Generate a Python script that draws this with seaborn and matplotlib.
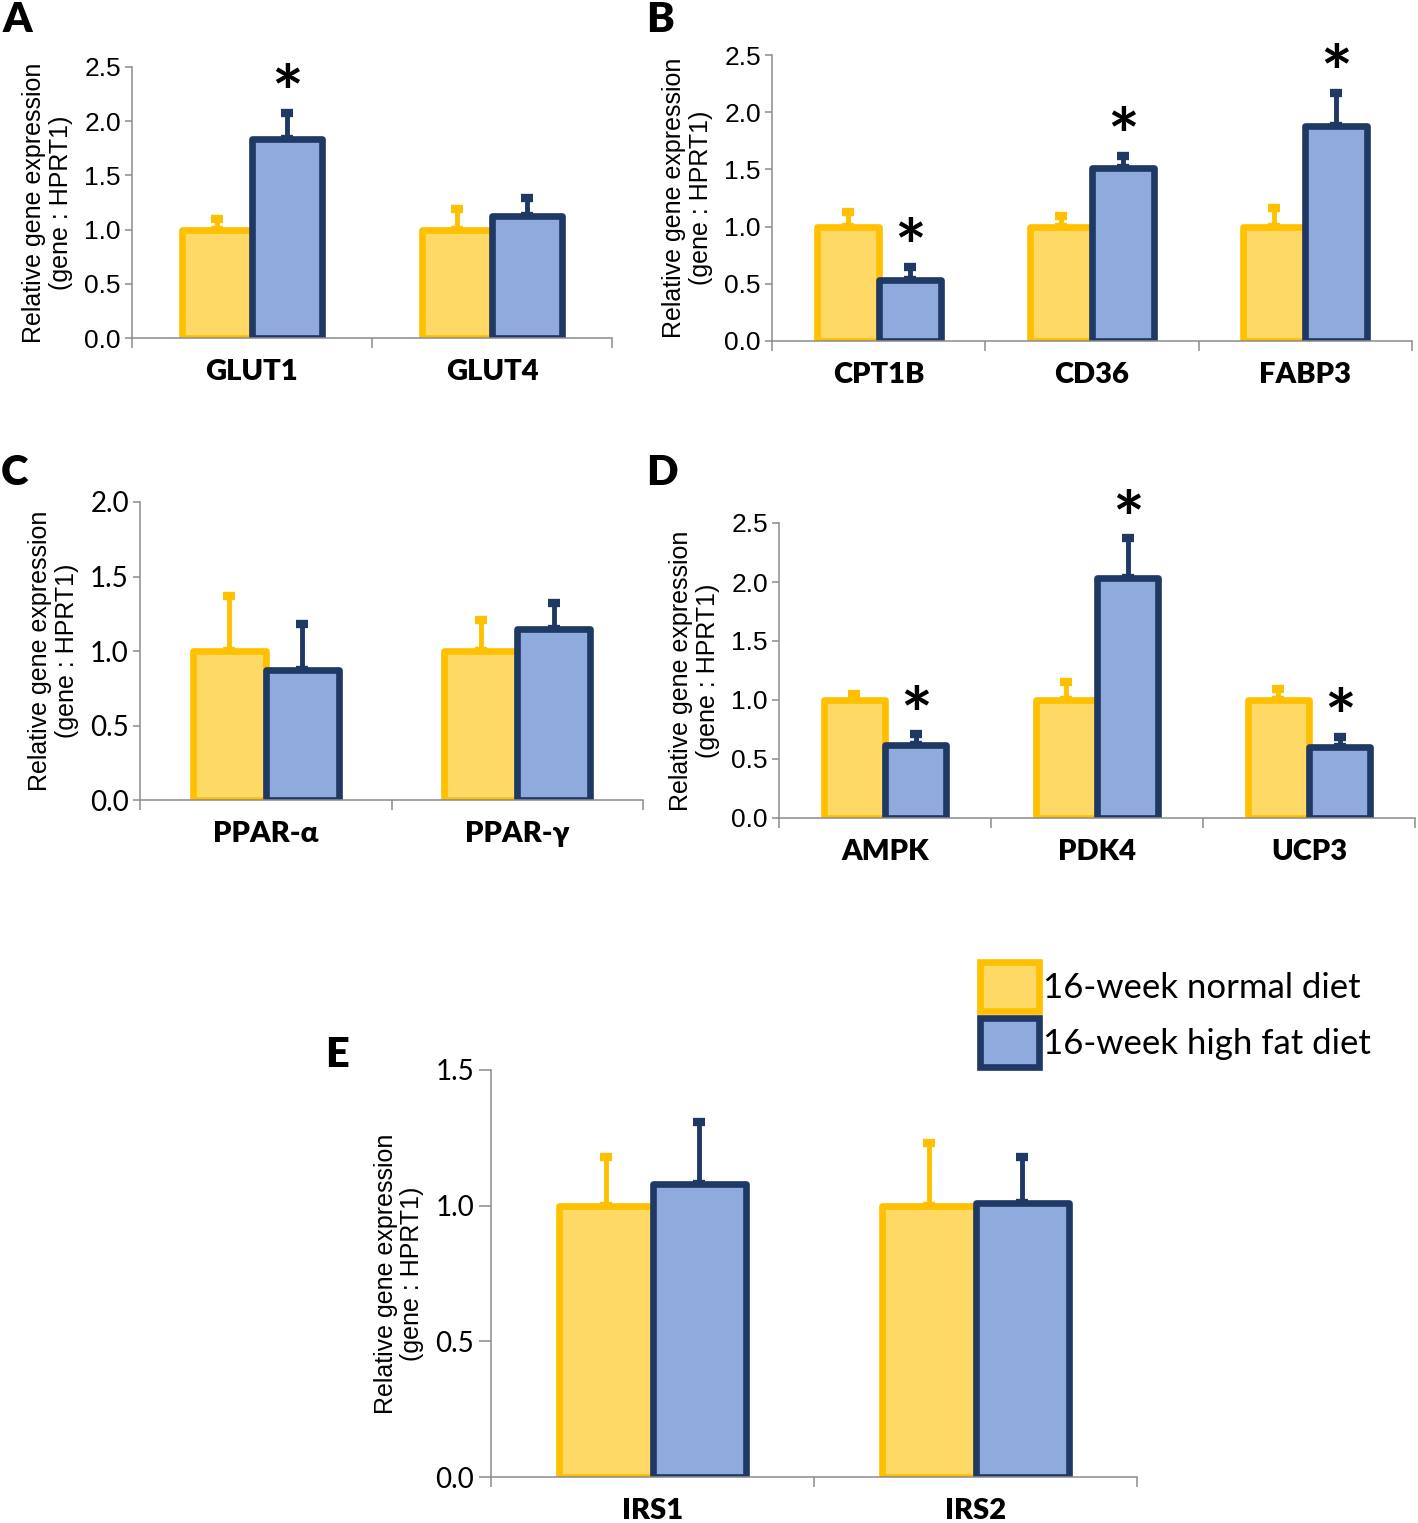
import numpy as np
import pandas as pd
import seaborn as sns
import matplotlib.pyplot as plt
from matplotlib.patches import Patch

# values: mean and upper SEM for each diet
diets = ['16-week normal diet', '16-week high fat diet']

genes_a = ['GLUT1', 'GLUT4']
normal_a = [1.00, 1.00]
normal_err_a = [0.10, 0.19]
hfd_a = [1.84, 1.13]
hfd_err_a = [0.24, 0.16]
star_a = [True, False]

genes_b = ['CPT1B', 'CD36', 'FABP3']
normal_b = [1.00, 1.00, 1.00]
normal_err_b = [0.13, 0.09, 0.16]
hfd_b = [0.53, 1.51, 1.88]
hfd_err_b = [0.12, 0.11, 0.29]
star_b = [True, True, True]

genes_c = ['PPAR-α', 'PPAR-γ']
normal_c = [1.00, 1.00]
normal_err_c = [0.37, 0.21]
hfd_c = [0.87, 1.15]
hfd_err_c = [0.31, 0.17]
star_c = [False, False]

genes_d = ['AMPK', 'PDK4', 'UCP3']
normal_d = [1.00, 1.00, 1.00]
normal_err_d = [0.05, 0.15, 0.09]
hfd_d = [0.62, 2.03, 0.60]
hfd_err_d = [0.09, 0.34, 0.09]
star_d = [True, True, True]

genes_e = ['IRS1', 'IRS2']
normal_e = [1.00, 1.00]
normal_err_e = [0.18, 0.23]
hfd_e = [1.08, 1.01]
hfd_err_e = [0.23, 0.17]
star_e = [False, False]

fills = ['#FFD966', '#8FAADC']
edges = ['#FFC000', '#203864']
axis_grey = '#8C8C8C'

plt.rcParams['font.family'] = ['Liberation Sans', 'DejaVu Sans']

W, H = 1418, 1523
fig = plt.figure(figsize=(W / 100, H / 100), dpi=100)


def rect(left, right, bottom, top):
    return [left / W, 1 - bottom / H, (right - left) / W, (bottom - top) / H]


def draw_panel(ax, genes, normal, normal_err, hfd, hfd_err, stars, ymax, tick_font, ytick_len=5):
    df = pd.DataFrame({
        'gene': genes * 2,
        'diet': [diets[0]] * len(genes) + [diets[1]] * len(genes),
        'value': normal + hfd,
    })
    sns.barplot(data=df, x='gene', y='value', hue='diet', palette=fills, saturation=1,
                width=0.58, gap=0, errorbar=None, legend=False, linewidth=4.8, ax=ax)

    errs = [normal_err, hfd_err]
    bar_groups = list(ax.containers)
    for i, cont in enumerate(bar_groups):
        xs, tops = [], []
        for p in cont:
            p.set_edgecolor(edges[i])
            p.set_joinstyle('round')
            xs.append(p.get_x() + p.get_width() / 2)
            tops.append(p.get_height())
        ax.errorbar(xs, tops, yerr=[np.zeros(len(xs)), errs[i]], fmt='none', ecolor=edges[i],
                    elinewidth=3.5, capsize=4.5, capthick=6, zorder=0.5)
        if i == 1:
            # significance marks above the high fat diet bars
            for x, t, e, s in zip(xs, tops, errs[i], stars):
                if s:
                    ax.annotate('*', xy=(x, t + e), xytext=(0, -14), textcoords='offset points',
                                ha='center', va='bottom', fontsize=54, fontweight='bold',
                                family='Lato')

    n = len(genes)
    ax.set_xlim(-0.5, n - 0.5)
    ax.set_ylim(0, ymax)
    ax.set_yticks(np.arange(0, ymax + 0.01, 0.5))
    ax.set_yticklabels([f'{v:.1f}' for v in np.arange(0, ymax + 0.01, 0.5)], **tick_font)
    ax.set_xticks(range(n))
    ax.set_xticklabels(genes, family=['Lato', 'Liberation Serif'], fontweight='heavy', fontsize=21)
    ax.set_xticks(np.arange(-0.5, n, 1.0), minor=True)
    ax.tick_params(axis='x', which='major', length=0, pad=15)
    ax.tick_params(axis='x', which='minor', length=7, width=1.1, color=axis_grey)
    ax.tick_params(axis='y', length=ytick_len, width=1.1, color=axis_grey, pad=3)

    ax.set_xlabel('')
    ax.set_ylabel('Relative gene expression\n(gene : HPRT1)', fontsize=18, labelpad=8,
                  linespacing=1.15)
    for side in ['top', 'right']:
        ax.spines[side].set_visible(False)
    for side in ['left', 'bottom']:
        ax.spines[side].set_color(axis_grey)
        ax.spines[side].set_linewidth(1.1)
    ax.set_facecolor('none')


narrow = dict(family=['Liberation Sans Narrow', 'Liberation Sans'], fontsize=19)
calibri = dict(family='Lato', fontsize=20)

ax_a = fig.add_axes(rect(132, 612, 338, 67))
draw_panel(ax_a, genes_a, normal_a, normal_err_a, hfd_a, hfd_err_a, star_a, 2.5, narrow)

ax_b = fig.add_axes(rect(772, 1412, 341, 55))
draw_panel(ax_b, genes_b, normal_b, normal_err_b, hfd_b, hfd_err_b, star_b, 2.5, narrow)

ax_c = fig.add_axes(rect(140, 643, 800, 502))
draw_panel(ax_c, genes_c, normal_c, normal_err_c, hfd_c, hfd_err_c, star_c, 2.0, calibri)

ax_d = fig.add_axes(rect(779, 1415, 818, 523))
draw_panel(ax_d, genes_d, normal_d, normal_err_d, hfd_d, hfd_err_d, star_d, 2.5, narrow)

ax_e = fig.add_axes(rect(491, 1137, 1477, 1070))
draw_panel(ax_e, genes_e, normal_e, normal_err_e, hfd_e, hfd_err_e, star_e, 1.5, calibri, ytick_len=9)

# panel letters
for letter, (px, py) in zip('ABCDE', [(3, 20), (646, 20), (1, 473), (646, 473), (325, 1055)]):
    fig.text(px / W, 1 - py / H, letter, fontsize=30, fontweight='heavy', family='Lato',
             ha='left', va='center')

# legend
handles = [Patch(facecolor=fills[i], edgecolor=edges[i], linewidth=4.8, label=diets[i]) for i in range(2)]
fig.legend(handles=handles, loc='upper left', bbox_to_anchor=(980 / W, 1 - 962 / H), frameon=False,
           prop=dict(family='Lato', size=25), handlelength=1.7, handleheight=1.8,
           handletextpad=0.12, labelspacing=0.2, borderaxespad=0, borderpad=0)

fig.savefig('out.png', dpi=100, facecolor='white')
